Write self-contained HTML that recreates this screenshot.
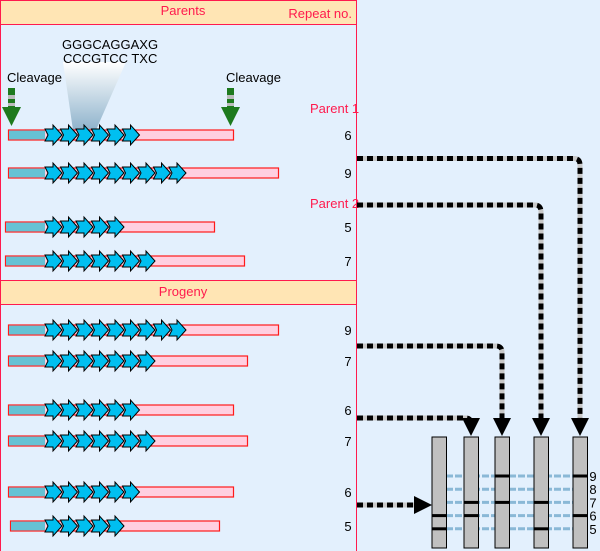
<!DOCTYPE html>
<html><head><meta charset="utf-8"><style>
html,body{margin:0;padding:0;background:#e3f0fd;}
svg{display:block;font-family:"Liberation Sans",sans-serif;}
</style></head><body>
<svg id="fig" width="600" height="551" viewBox="0 0 600 551">
<defs>
<linearGradient id="cone" x1="0" y1="0" x2="0" y2="1">
<stop offset="0" stop-color="#ffffff"/><stop offset="1" stop-color="#8fb3cc"/></linearGradient>
</defs>
<rect x="0" y="0" width="600" height="551" fill="#e3f0fd"/>
<rect x="0.5" y="0.5" width="356" height="560" fill="#e3f0fd" stroke="#ff1a4d"/>
<rect x="0.5" y="0.5" width="356" height="24" fill="#ffe5b4" stroke="#ff1a4d"/>
<text x="183" y="15" fill="#ff1a4d" font-size="13" text-anchor="middle">Parents</text>
<text x="352" y="18" fill="#ff1a4d" font-size="13" text-anchor="end">Repeat no.</text>
<rect x="0.5" y="280.5" width="356" height="24" fill="#ffe5b4" stroke="#ff1a4d"/>
<text x="183" y="296" fill="#ff1a4d" font-size="13" text-anchor="middle">Progeny</text>
<polygon points="63,62 126,62 96,130 73,130" fill="url(#cone)"/>
<text x="62" y="49" font-size="13" fill="#000">GGGCAGGAXG</text>
<text x="63" y="63" font-size="13" fill="#000">CCCGTCC TXC</text>
<text x="7" y="82" font-size="13" fill="#000">Cleavage</text>
<text x="226" y="82" font-size="13" fill="#000">Cleavage</text>
<g>
<rect x="8" y="88" width="7" height="20" fill="#1e7a1e"/><rect x="8" y="95" width="7" height="4" fill="#bbb"/><rect x="8" y="103" width="7" height="3" fill="#bbb"/>
<polygon points="2,107 21,107 11.5,126" fill="#1e7a1e"/></g>
<g>
<rect x="227" y="88" width="7" height="20" fill="#1e7a1e"/><rect x="227" y="95" width="7" height="4" fill="#bbb"/><rect x="227" y="103" width="7" height="3" fill="#bbb"/>
<polygon points="221,107 240,107 230.5,126" fill="#1e7a1e"/></g>
<text x="310" y="113" fill="#ff1a4d" font-size="13">Parent 1</text>
<text x="310" y="208" fill="#ff1a4d" font-size="13">Parent 2</text>
<g id="rows"></g>
<g id="conns"></g>
<g id="gel"></g>
</svg>
<script>
const NS="http://www.w3.org/2000/svg";
const rowRepeats=[6,9,5,7,9,7,6,7,6,5];
const rowStart=[8,8,5,5,8,8,8,8,8,10];
const rowEnd=[233,278,214,244,278,247,233,247,233,219];
const rowY=[135,173,227,261,330,361,410,441,492,526];
const laneBands=[[6,5],[7,6],[9,7],[7,5],[9,6]];
const bandLevels=[9,8,7,6,5];
function mk(t,a,p){const e=document.createElementNS(NS,t);for(const k in a)e.setAttribute(k,a[k]);(p||document.getElementById('fig')).appendChild(e);return e;}
const rows=document.getElementById('rows');
const step=15.5;
rowRepeats.forEach((n,i)=>{
 const y=rowY[i],x0=rowStart[i],x1=rowEnd[i];
 const g=mk('g',{},rows);
 
 
 const bar=mk('rect',{x:x0+0.5,y:y-5,width:x1-x0,height:10,fill:'#ffcfe0',stroke:'#ff1a1a','stroke-width':1.2},g);
 
 
 const ax=45;
 const fl=mk('rect',{x:x0+1,y:y-4.4,width:ax-x0-1,height:8.8,fill:'#66c2d4'},g);
 
 
 for(let k=0;k<n;k++){
  const x=ax+k*step;
  const p=mk('polygon',{points:`${x},${y-6} ${x+8},${y-6} ${x+8},${y-10} ${x+17},${y} ${x+8},${y+10} ${x+8},${y+6} ${x},${y+6} ${x+3},${y}`,fill:'#00bff0',stroke:'#000','stroke-width':1},g);
  
  
 }
 const t=mk('text',{x:348,y:y+5,'font-size':13,'text-anchor':'middle',fill:'#000'},g);
 t.textContent=n;
 
 
});
// gel
const gel=document.getElementById('gel');
const laneX=[439,471,502,541,580];
const gelTop=437,gelBot=548;
function bandY(v){return 476+(9-v)*13.2;}
bandLevels.forEach(v=>{
 const l=mk('line',{x1:446,x2:574,y1:bandY(v),y2:bandY(v),stroke:'#8ab8d6','stroke-width':3,'stroke-dasharray':'7 2'},gel);
 
 
 const t=mk('text',{x:593,y:bandY(v)+5,'font-size':13,'text-anchor':'middle',fill:'#000'},gel);
 t.textContent=v;
 
 
});
laneBands.forEach((b,i)=>{
 const x=laneX[i];
 const r=mk('rect',{x:x-7,y:gelTop,width:14.5,height:gelBot-gelTop,fill:'#c0c0c0',stroke:'#000','stroke-width':1},gel);
 
 
 b.forEach(v=>{
  const bb=mk('rect',{x:x-7,y:bandY(v)-1.5,width:14.5,height:3,fill:'#000'},gel);
  
  
 });
});
// connectors
const conns=document.getElementById('conns');
function path(d){
 mk('path',{d:d,fill:'none',stroke:'#c8c8c8','stroke-width':5},conns);
 const p=mk('path',{d:d,fill:'none',stroke:'#000','stroke-width':5,'stroke-dasharray':'6 4'},conns);
 
 
}
function downArrow(x){const a=mk('polygon',{points:`${x-9},418 ${x+9},418 ${x},436`,fill:'#000'},conns);}
path('M357,158.5 H574 Q580,158.5 580,165 V420');downArrow(580);
path('M357,205 H535 Q541,205 541,212 V420');downArrow(541);
path('M357,346 H496 Q502,346 502,352 V420');downArrow(502);
path('M357,418 H466 Q471,418 471,424 V422');downArrow(471);
path('M357,505 H418');
const la=mk('polygon',{points:`414,496 414,514 432,505`,fill:'#000'},conns);


</script>
</body></html>
